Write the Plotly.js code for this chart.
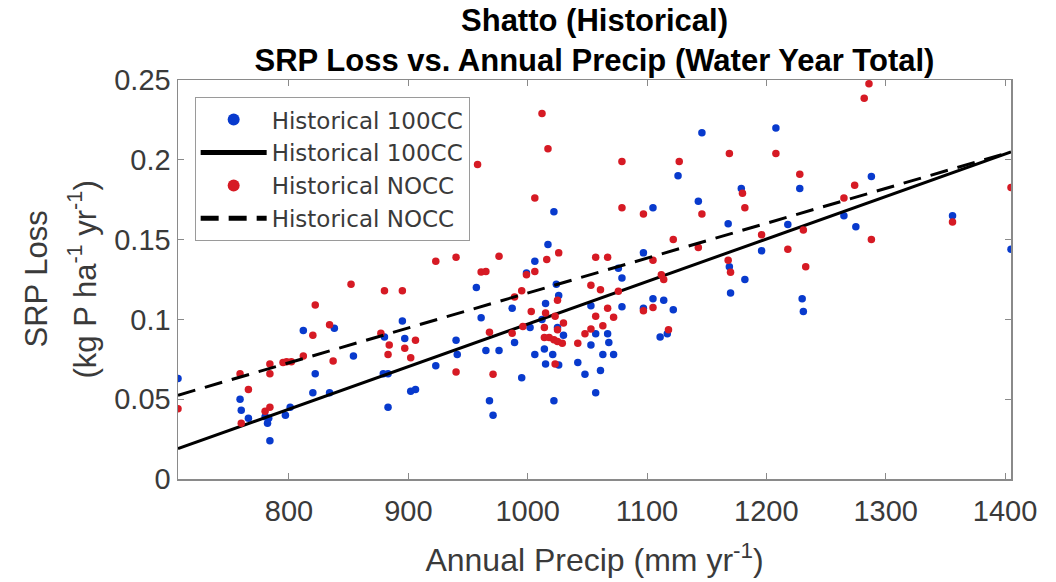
<!DOCTYPE html>
<html>
<head>
<meta charset="utf-8">
<script src="https://cdn.plot.ly/plotly-3.0.1.min.js"></script>
<style>html,body{margin:0;padding:0;background:#fff;}#chart{width:1056px;height:582px;}</style>
</head>
<body>
<div id="chart"></div>
<script>
// Historical 100CC (blue points)
const blueX = [707,759,760,766,780,783,782,784,797,801,812,822,820,834,838,854,880,879,883,883,895,897,902,906,923,940,941,957,961,965,976,968,971,987,989,995,999,1002,1006,1006,1012,1015,1014,1015,1017,1022,1024,1026,1021,1025,1030,1026,1022,1042,1048,1053,1053,1057,1057,1061,1063,1067,1068,1072,1076,1079,1079,1097,1097,1105,1105,1114,1122,1111,1117,1126,1143,1146,1168,1169,1170,1179,1182,1196,1208,1218,1228,1230,1231,1265,1275,1288,1356,1405];
const blueY = [0.063,0.050,0.043,0.038,0.039,0.038,0.035,0.024,0.040,0.045,0.093,0.066,0.054,0.054,0.0945,0.077,0.089,0.066,0.066,0.045,0.099,0.088,0.055,0.056,0.071,0.087,0.078,0.120,0.101,0.0805,0.0805,0.049,0.040,0.107,0.0855,0.0635,0.129,0.095,0.1365,0.078,0.100,0.110,0.0815,0.072,0.147,0.1675,0.122,0.115,0.078,0.095,0.090,0.0715,0.049,0.073,0.0656,0.1086,0.084,0.091,0.054,0.068,0.078,0.091,0.0855,0.078,0.132,0.126,0.108,0.1417,0.107,0.170,0.113,0.112,0.106,0.089,0.091,0.190,0.174,0.217,0.160,0.133,0.1165,0.182,0.125,0.143,0.220,0.1595,0.182,0.113,0.105,0.165,0.158,0.1895,0.165,0.144];
// Historical NOCC (red points)
const redX = [707,759,766,760,784,784,780,784,795,798,802,812,820,822,834,837,852,958,880,895,877,884,883,897,906,902,923,940,940,961,965,968,971,976,987,989,995,999,1003,996,1006,1006,1012,1017,1016,1015,1014,1014,1018,1022,1025,1029,1023,1025,1026,1025,1030,1023,1042,1048,1053,1057,1053,1057,1061,1063,1067,1067,1072,1076,1079,1079,1097,1097,1105,1105,1112,1114,1118,1122,1127,1143,1146,1168,1170,1169,1180,1182,1196,1208,1218,1228,1231,1233,1265,1274,1288,1282,1286,1356,1405];
const redY = [0.044,0.066,0.056,0.035,0.072,0.066,0.0425,0.045,0.073,0.0734,0.0734,0.077,0.090,0.109,0.0966,0.074,0.122,0.197,0.118,0.118,0.0914,0.084,0.078,0.082,0.087,0.076,0.1365,0.139,0.067,0.1297,0.130,0.092,0.0656,0.1396,0.0914,0.114,0.118,0.128,0.105,0.0956,0.176,0.130,0.229,0.207,0.1375,0.104,0.095,0.0887,0.0887,0.0872,0.0862,0.0851,0.102,0.112,0.1417,0.0935,0.0977,0.072,0.085,0.091,0.094,0.102,0.1214,0.139,0.1186,0.096,0.139,0.107,0.1014,0.1176,0.199,0.170,0.166,0.1054,0.137,0.1075,0.128,0.125,0.0935,0.150,0.199,0.145,0.166,0.137,0.1296,0.204,0.179,0.170,0.153,0.204,0.144,0.191,0.156,0.133,0.176,0.184,0.150,0.2386,0.2476,0.161,0.1826];
// Fitted lines
const fitX = [707, 1405];
const fit100CC = [0.019, 0.205];
const fitNOCC = [0.0525, 0.205];
const seriesNames = ['Historical 100CC','Historical 100CC','Historical NOCC','Historical NOCC'];
const xTicks = [800,900,1000,1100,1200,1300,1400];
const yTicks = [0,0.05,0.1,0.15,0.2,0.25];
const yTitleLines = ['SRP Loss', '(kg P ha<sup>-1</sup> yr<sup>-1</sup>)'];

const BLUE = 'rgb(8,58,205)';
const RED = 'rgb(214,26,36)';
const FONT = 'Liberation Sans, Arial, Helvetica, sans-serif';
const GREY = '#3a3a3a';

const traces = [
  {x: blueX, y: blueY, mode: 'markers', type: 'scatter', name: seriesNames[0],
   marker: {color: BLUE, size: 7.5}},
  {x: fitX, y: fit100CC, mode: 'lines', type: 'scatter', name: seriesNames[1],
   line: {color: '#000', width: 3}},
  {x: redX, y: redY, mode: 'markers', type: 'scatter', name: seriesNames[2],
   marker: {color: RED, size: 7.5}},
  {x: fitX, y: fitNOCC, mode: 'lines', type: 'scatter', name: seriesNames[3],
   line: {color: '#000', width: 3, dash: '18px,10px'}}
];

const layout = {
  width: 1056, height: 582,
  paper_bgcolor: '#fff', plot_bgcolor: '#fff',
  margin: {l: 178, r: 45, t: 80, b: 103},
  font: {family: FONT, color: GREY},
  title: {
    text: '<b>Shatto (Historical)</b><br><b>SRP Loss vs. Annual Precip (Water Year Total)</b>',
    font: {family: FONT, size: 31, color: '#000'},
    xref: 'paper', x: 0.5, xanchor: 'center',
    yref: 'container', y: 0.947, yanchor: 'top'
  },
  xaxis: {
    range: [707, 1405], tickvals: xTicks,
    ticks: 'inside', ticklen: 6, tickcolor: '#8a8a8a', tickwidth: 1,
    showline: true, linecolor: '#8a8a8a', linewidth: 1.5, mirror: 'ticks',
    showgrid: false, zeroline: false, ticklabelstandoff: 6,
    tickfont: {family: FONT, size: 29, color: GREY},
    title: {text: 'Annual Precip (mm yr<sup>-1</sup>)', font: {family: FONT, size: 32, color: GREY}, standoff: 22}
  },
  yaxis: {
    range: [0, 0.25], tickvals: yTicks,
    ticks: 'inside', ticklen: 6, tickcolor: '#8a8a8a', tickwidth: 1,
    showline: true, linecolor: '#8a8a8a', linewidth: 1.5, mirror: 'ticks',
    showgrid: false, zeroline: false,
    tickfont: {family: FONT, size: 29, color: GREY}
  },
  annotations: [
    {text: yTitleLines[0], textangle: -90, xref: 'paper', yref: 'paper',
     x: (36 - 178) / 833, y: 0.5, xanchor: 'center', yanchor: 'middle', showarrow: false,
     font: {family: FONT, size: 31, color: GREY}},
    {text: yTitleLines[1], textangle: -90, xref: 'paper', yref: 'paper',
     x: (82 - 178) / 833, y: 0.5, xanchor: 'center', yanchor: 'middle', showarrow: false,
     font: {family: FONT, size: 31, color: GREY}}
  ],
  legend: {
    x: 0.02, y: 0.957, xanchor: 'left', yanchor: 'top',
    bgcolor: '#fff', bordercolor: '#9a9a9a', borderwidth: 1,
    font: {family: 'DejaVu Sans, ' + FONT, size: 23, color: GREY},
    itemsizing: 'constant', itemwidth: 66, tracegroupgap: 0
  },
  showlegend: true
};

Plotly.newPlot('chart', traces, layout, {displayModeBar: false, staticPlot: true});
</script>
</body>
</html>
